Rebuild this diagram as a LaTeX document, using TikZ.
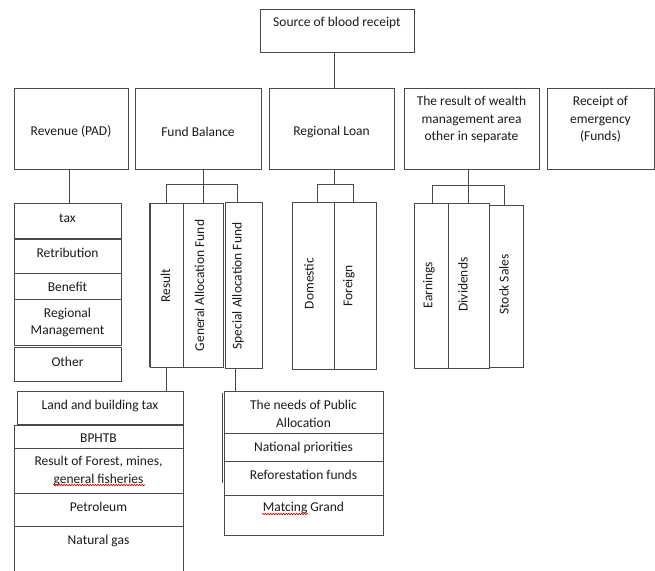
\documentclass[tikz,border=0pt]{standalone}
\usepackage{fontspec}
\setmainfont{Carlito}
\usetikzlibrary{decorations.pathmorphing}
\definecolor{edge}{HTML}{4A4A4A}
\definecolor{ink}{HTML}{1A1A1A}
\tikzset{
  box/.style={draw=edge, line width=0.9pt, rectangle, inner sep=0pt},
  lbl/.style={font=\fontsize{13.5}{17.5}\selectfont, text=ink, align=center, inner sep=0pt},
  conn/.style={draw=edge, line width=0.9pt},
  heavy/.style={draw=edge, line width=1.7pt},
  squig/.style={draw=red!85!black, line width=0.6pt, decorate, decoration={snake, amplitude=0.8pt, segment length=2.6pt}}
}
\newcommand\bx[7]{%
  \node[box, minimum width={(#4-#2)*1pt}, minimum height={(#5-#3)*1pt}] (#1) at ({(#2+#4)/2},{(#3+#5)/2}) {};
  \node[lbl] (#1-t) at ({(#2+#4)/2},#6) {#7};}
\newcommand\vbx[8]{%
  \node[box, minimum width={(#4-#2)*1pt}, minimum height={(#5-#3)*1pt}] (#1) at ({(#2+#4)/2},{(#3+#5)/2}) {};
  \node[lbl, rotate=90] (#1-t) at (#6,#7) {#8};}
\begin{document}
\begin{tikzpicture}[x=1pt, y=-1pt]
\useasboundingbox (0,0) rectangle (655,570);
% top level
\bx{top}{260}{9}{414}{52}{23}{Source of blood receipt}
% second level
\bx{rev}{14}{88}{128}{169}{131.5}{Revenue (PAD)}
\bx{fund}{135}{88}{261}{169}{131.5}{Fund Balance}
\bx{loan}{269}{88}{394}{169}{131.5}{Regional Loan}
\bx{wealth}{404}{88}{539}{169}{119.5}{The result of wealth\\management area\\other in separate}
\bx{emerg}{547}{88}{654}{169}{119.5}{Receipt of\\emergency\\(Funds)}
% revenue column
\bx{tax}{14}{203}{121}{238}{218}{tax}
\bx{retr}{14}{239}{121}{273}{253}{Retribution}
\bx{ben}{14}{273}{121}{299}{287}{Benefit}
\bx{regm}{14}{299}{121}{345}{322.5}{Regional\\Management}
\bx{oth}{14}{347}{121}{381}{362}{Other}
% fund balance group
\vbx{res}{150}{203}{183}{367}{165.5}{285.5}{Result}
\vbx{gaf}{183}{203}{223}{367}{199.5}{285.5}{General Allocation Fund}
\vbx{saf}{225}{202}{262}{368}{238}{286}{Special Allocation Fund}
% regional loan group
\vbx{dom}{292}{202}{334}{369}{309}{283.5}{Domestic}
\vbx{for}{334}{202}{376}{369}{349}{286}{Foreign}
% wealth group
\vbx{earn}{414}{203}{448}{368}{429}{285}{Earnings}
\vbx{div}{448}{203}{489}{368}{463}{284.5}{Dividends}
\vbx{stk}{489}{205}{523}{367}{504}{284.5}{Stock Sales}
% result column
\bx{land}{17}{391}{183}{424}{406}{Land and building tax}
\bx{bph}{14}{425}{183}{448}{438}{BPHTB}
\bx{forest}{14}{448}{183}{493}{471}{Result of Forest, mines,\\general fisheries}
\bx{petr}{14}{493}{183}{526}{507}{Petroleum}
\bx{gas}{14}{526}{183}{600}{541}{Natural gas}
% special allocation column
\bx{needs}{224}{391}{383}{433}{414}{The needs of Public\\Allocation}
\bx{nat}{224}{433}{383}{461}{448}{National priorities}
\bx{refo}{224}{461}{383}{495}{475}{Reforestation funds}
\bx{match}{224}{495}{383}{535}{508}{Matcing Grand}
% heavy edges
\draw[heavy] (res.north west) -- (res.south west);
\draw[heavy] ([shift={(-1,2)}]needs.north west) -- ([shift={(-1,22)}]refo.north west);
% connectors
\draw[conn] ([xshift=-3pt]top.south) -- ([xshift=2.5pt]loan.north);
\draw[conn] ([xshift=-2pt]rev.south) -- ([xshift=1.5pt]tax.north);
\draw[conn] (fund.south -| gaf.north) -- (gaf.north);
\draw[conn] (res.north) -- ++(0,-18) -| ([xshift=-6.5pt]saf.north);
\draw[conn] ([xshift=2.5pt]loan.south) -- ++(0,16);
\draw[conn] ([xshift=4pt]dom.north) -- ++(0,-17) -| ([xshift=-2pt]for.north);
\draw[conn] (wealth.south -| div.north) -- (div.north);
\draw[conn] ([xshift=1pt]earn.north) -- ++(0,-17) -| ([xshift=-2pt]stk.north);
\draw[conn] (res.south) -- (res.south |- land.north);
\draw[conn] ([xshift=-8.5pt]saf.south) -- ([xshift=-8.5pt]saf.south |- needs.north);
% spell-check squiggles
\draw[squig] (53,485) -- (145,485);
\draw[squig] (262,514) -- (308,514);
\end{tikzpicture}
\end{document}
